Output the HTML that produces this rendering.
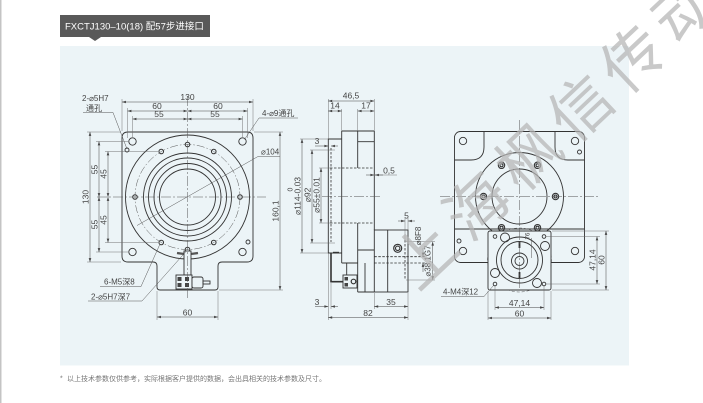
<!DOCTYPE html>
<html><head><meta charset="utf-8">
<style>
html,body{margin:0;padding:0;background:#fff;}
body{width:703px;height:403px;overflow:hidden;position:relative;}
svg{position:absolute;left:0;top:0;}
</style></head><body>
<svg width="703" height="403" viewBox="0 0 703 403" xmlns="http://www.w3.org/2000/svg" font-family="Liberation Sans, Noto Sans CJK SC, sans-serif">
<defs>
<marker id="a" viewBox="0 0 6 4" refX="6" refY="2" markerWidth="5" markerHeight="2.6" orient="auto-start-reverse" markerUnits="userSpaceOnUse"><path d="M0,0L6,2L0,4z" fill="#444"/></marker>
</defs>
<rect x="0" y="0" width="1.5" height="403" fill="#c4c4c4"/>
<rect x="60" y="46" width="569" height="319.5" fill="#ecf4f7"/>
<rect x="60" y="15" width="150" height="22" fill="#595959"/>
<path d="M89,37 L101,37 L95,41 Z" fill="#595959"/>
<text x="65" y="29.5" font-size="9.5" fill="#fff">FXCTJ130–10(18) 配57步进接口</text>

<text x="60" y="380.5" font-size="7" fill="#777">*</text>
<text x="67" y="381" font-size="7" fill="#777">以上技术参数仅供参考，实际根据客户提供的数据，会出具相关的技术参数及尺寸。</text>

<!-- ============ LEFT VIEW ============ -->
<g fill="none" stroke="#333" stroke-width="0.9">
<path d="M128,132 H247 Q253,132 253,138 V256 Q253,262 247,262 H222 Q218,262 218,266 V287 Q218,290 215,290 H160 Q157,290 157,287 V266 Q157,262 153,262 H128 Q122,262 122,256 V138 Q122,132 128,132 Z"/>
<circle cx="187.5" cy="197" r="62"/>
<circle cx="187.5" cy="197" r="44"/>
<circle cx="187.5" cy="197" r="39"/>
<circle cx="187.5" cy="197" r="33.5"/>
<circle cx="187.5" cy="197" r="28"/>
<circle cx="132.5" cy="141.5" r="3.7"/>
<circle cx="242.5" cy="141.5" r="3.7"/>
<circle cx="132.5" cy="252" r="3.7"/>
<circle cx="242.5" cy="252" r="3.7"/>
<circle cx="127" cy="150" r="2"/>
<circle cx="248" cy="242" r="2"/>
<g stroke-width="1">
<circle cx="240" cy="197" r="2.3"/>
<circle cx="213.75" cy="151.5" r="2.3"/>
<circle cx="187.5" cy="144.5" r="2.3"/>
<circle cx="161.25" cy="151.5" r="2.3"/>
<circle cx="135" cy="197" r="2.3"/>
<circle cx="161.25" cy="242.5" r="2.3"/>
<circle cx="187.5" cy="249.5" r="2.3"/>
<circle cx="213.75" cy="242.5" r="2.3"/>
</g>
<path d="M177,253 Q187.5,255 198,253" stroke-width="2.2" stroke="#555"/>
<rect x="184" y="251" width="7" height="24" fill="#ecf4f7"/>
<rect x="176" y="275" width="16" height="14" fill="#ecf4f7"/>
<rect x="192" y="277" width="11" height="11" rx="2" fill="#ecf4f7"/>
<rect x="203" y="281" width="7" height="3"/>
</g>
<g fill="#444">
<rect x="177.5" y="277" width="4" height="4"/><rect x="177.5" y="283" width="4" height="4"/>
<rect x="185" y="277" width="4" height="4"/><rect x="185" y="283" width="4" height="4"/>
</g>
<circle cx="187.5" cy="197" r="52.5" fill="none" stroke="#555" stroke-width="0.5" stroke-dasharray="8,2,1.5,2"/>
<g stroke="#555" stroke-width="0.5" stroke-dasharray="10,2,2,2">
<line x1="187.5" y1="96" x2="187.5" y2="300"/>
<line x1="97" y1="197" x2="266" y2="197"/>
</g>
<g stroke="#666" stroke-width="0.45">
<line x1="122" y1="99" x2="122" y2="131"/><line x1="253" y1="99" x2="253" y2="131"/>
<line x1="127.5" y1="108" x2="127.5" y2="138"/><line x1="247.5" y1="108" x2="247.5" y2="138"/>
<line x1="132.5" y1="116" x2="132.5" y2="137"/><line x1="242.5" y1="116" x2="242.5" y2="137"/>
<line x1="87" y1="132" x2="121" y2="132"/><line x1="96" y1="141.5" x2="128" y2="141.5"/>
<line x1="105" y1="151.5" x2="158" y2="151.5"/><line x1="105" y1="242.5" x2="158" y2="242.5"/>
<line x1="96" y1="252" x2="128" y2="252"/><line x1="87" y1="262" x2="121" y2="262"/>
<line x1="254" y1="132" x2="283" y2="132"/><line x1="219" y1="290" x2="283" y2="290"/>
<line x1="157" y1="291" x2="157" y2="320"/><line x1="218" y1="291" x2="218" y2="320"/>
</g>
<g stroke="#444" stroke-width="0.5" marker-start="url(#a)" marker-end="url(#a)">
<line x1="122" y1="102" x2="253" y2="102"/>
<line x1="127.5" y1="111" x2="187.5" y2="111"/><line x1="187.5" y1="111" x2="247.5" y2="111"/>
<line x1="132.5" y1="119" x2="187.5" y2="119"/><line x1="187.5" y1="119" x2="242.5" y2="119"/>
<line x1="90" y1="132" x2="90" y2="262"/>
<line x1="99" y1="141.5" x2="99" y2="197"/><line x1="99" y1="197" x2="99" y2="252"/>
<line x1="108" y1="151.5" x2="108" y2="197"/><line x1="108" y1="197" x2="108" y2="242.5"/>
<line x1="280" y1="132" x2="280" y2="290"/>
<line x1="157" y1="317" x2="218" y2="317"/>
</g>
<g fill="none" stroke="#555" stroke-width="0.5">
<polyline points="83,112.5 113,112.5 127,149"/>
<polyline points="298,118 259,118 244.5,139.5"/>
<polyline points="137,225.5 258,156.5 280,156.5"/>
<polyline points="100,286.5 141,286.5 160,244"/>
<polyline points="88,301 142,301 186,251.5"/>
</g>
<g font-size="8.5" fill="#444" text-anchor="middle">
<text x="187.5" y="100">130</text>
<text x="157" y="109">60</text><text x="218" y="109">60</text>
<text x="159" y="117">55</text><text x="215" y="117">55</text>
<text x="187.5" y="315.5">60</text>
<text transform="translate(88.5,197) rotate(-90)">130</text>
<text transform="translate(97.5,169.5) rotate(-90)">55</text>
<text transform="translate(106.5,174) rotate(-90)">45</text>
<text transform="translate(97.5,224.5) rotate(-90)">55</text>
<text transform="translate(106.5,220) rotate(-90)">45</text>
<text transform="translate(278.5,211) rotate(-90)">160,1</text>
</g>
<g font-size="8" fill="#444">
<text x="82" y="101">2-⌀5H7</text>
<text x="86" y="111">通孔</text>
<text x="262" y="116">4-⌀9通孔</text>
<text x="261" y="154.5">⌀104</text>
<text x="104" y="284.5">6-M5深8</text>
<text x="91" y="299.5">2-⌀5H7深7</text>
</g>

<!-- ============ MIDDLE VIEW ============ -->
<g fill="none" stroke="#333" stroke-width="0.9">
<path d="M341.7,139 H328.3 V253 H341.7"/>
<line x1="341.7" y1="131" x2="341.7" y2="263"/>
<line x1="341.7" y1="131" x2="374.3" y2="131"/>
<line x1="374.3" y1="131" x2="374.3" y2="230"/>
<line x1="357.7" y1="131" x2="357.7" y2="168"/>
<line x1="357.7" y1="223" x2="357.7" y2="292"/>
<line x1="357.7" y1="141.7" x2="374.3" y2="141.7"/>
<rect x="374.3" y="230" width="33.7" height="62"/>
<line x1="387.7" y1="230" x2="387.7" y2="292"/>
<line x1="357.7" y1="292" x2="374.3" y2="292"/>
<line x1="341.7" y1="263" x2="357.7" y2="263"/>
<line x1="357.7" y1="250" x2="374.3" y2="250"/>
<line x1="365" y1="263" x2="365" y2="292"/>
<line x1="346.7" y1="263" x2="346.7" y2="275"/>
<rect x="343" y="275" width="14" height="13" fill="#ecf4f7"/>
<circle cx="397.7" cy="248.3" r="4" stroke-width="1.2"/>
<circle cx="397.7" cy="248.3" r="2.2" stroke-width="1.1"/>
</g>
<path d="M331,253 V281.7 H343" fill="none" stroke="#333" stroke-width="1.6"/>
<line x1="333" y1="252.6" x2="339" y2="252.6" stroke="#333" stroke-width="1.6"/>
<circle cx="353.5" cy="281.5" r="2.3" fill="none" stroke="#333" stroke-width="1.2"/>
<rect x="344.5" y="277" width="3.5" height="3.5" fill="#444"/><rect x="344.5" y="283" width="3.5" height="3.5" fill="#444"/>
<g fill="none" stroke="#333" stroke-width="0.8" stroke-dasharray="2.5,1.5">
<line x1="330" y1="168" x2="374.3" y2="168"/>
<line x1="330" y1="223" x2="374.3" y2="223"/>
<line x1="331" y1="148" x2="331" y2="242"/>
<line x1="374.3" y1="256.7" x2="426" y2="256.7"/>
<line x1="374.3" y1="263" x2="426" y2="263"/>
<line x1="405" y1="240" x2="405" y2="280"/>
</g>
<line x1="322" y1="196.7" x2="381" y2="196.7" stroke="#555" stroke-width="0.5" stroke-dasharray="10,2,2,2"/>
<g stroke="#666" stroke-width="0.45">
<line x1="328.3" y1="99" x2="328.3" y2="139"/><line x1="328.3" y1="253" x2="328.3" y2="320"/>
<line x1="341.7" y1="109" x2="341.7" y2="131"/><line x1="357.7" y1="109" x2="357.7" y2="131"/>
<line x1="374.3" y1="99" x2="374.3" y2="131"/>
<line x1="300" y1="139" x2="328" y2="139"/><line x1="310" y1="150" x2="335" y2="150"/>
<line x1="319" y1="168" x2="330" y2="168"/><line x1="319" y1="223" x2="330" y2="223"/>
<line x1="310" y1="243" x2="335" y2="243"/><line x1="300" y1="253" x2="328" y2="253"/>
<line x1="331" y1="283" x2="331" y2="309"/>
<line x1="374.3" y1="293" x2="374.3" y2="309"/><line x1="408" y1="293" x2="408" y2="320"/>
<line x1="405" y1="218" x2="405" y2="240"/><line x1="408" y1="218" x2="408" y2="230"/>
<line x1="406" y1="241.7" x2="435" y2="241.7"/><line x1="406" y1="280" x2="435" y2="280"/>
<line x1="375" y1="175" x2="397" y2="175"/>
</g>
<g stroke="#444" stroke-width="0.5" marker-start="url(#a)" marker-end="url(#a)">
<line x1="328.3" y1="101" x2="374.3" y2="101"/>
<line x1="328.3" y1="111" x2="341.7" y2="111"/>
<line x1="357.7" y1="111" x2="374.3" y2="111"/>
<line x1="302" y1="139" x2="302" y2="253"/>
<line x1="312" y1="150" x2="312" y2="243"/>
<line x1="321" y1="168" x2="321" y2="223"/>
<line x1="432.7" y1="241.7" x2="432.7" y2="280"/>
<line x1="374.3" y1="306.5" x2="408" y2="306.5"/>
<line x1="328.3" y1="317.5" x2="408" y2="317.5"/>
</g>
<g stroke="#444" stroke-width="0.5" marker-end="url(#a)">
<line x1="315" y1="146" x2="328.3" y2="146"/><line x1="338" y1="146" x2="331" y2="146"/>
<line x1="366" y1="175" x2="374.3" y2="175"/><line x1="383" y1="175" x2="375" y2="175"/>
<line x1="398" y1="221" x2="405" y2="221"/><line x1="415" y1="221" x2="408" y2="221"/>
<line x1="423" y1="248" x2="423" y2="256.7"/><line x1="423" y1="272" x2="423" y2="263"/>
<line x1="315" y1="306.5" x2="328.3" y2="306.5"/><line x1="338" y1="306.5" x2="331" y2="306.5"/>
</g>
<g font-size="8.5" fill="#444" text-anchor="middle">
<text x="351" y="98.5">46,5</text>
<text x="335" y="108.5">14</text>
<text x="366" y="108.5">17</text>
<text x="317" y="144">3</text>
<text x="389" y="173.5">0,5</text>
<text x="406.5" y="218.5">5</text>
<text x="317" y="305">3</text>
<text x="391" y="305">35</text>
<text x="368" y="316">82</text>
<text transform="translate(300.5,196) rotate(-90)">⌀114-0.03</text>
<text transform="translate(310.5,195) rotate(-90)">⌀92</text>
<text transform="translate(319.5,195) rotate(-90)">⌀55±0.01</text>
<text transform="translate(421,236) rotate(-90)" font-size="8">⌀8F8</text>
<text transform="translate(430.5,261) rotate(-90)" font-size="8">⌀38,1G7</text>
</g>
<text transform="translate(292.5,189.5) rotate(-90)" font-size="7" fill="#444" text-anchor="middle">0</text>

<!-- ============ RIGHT VIEW ============ -->
<g fill="none" stroke="#333" stroke-width="0.9">
<rect x="454.5" y="131.5" width="130" height="131" rx="6"/>
<path d="M484,131.5 V147 Q484,160 471,160 H454.5"/>
<path d="M555,131.5 V147 Q555,160 568,160 H584.5"/>
<line x1="454.5" y1="229" x2="584.5" y2="229"/>
<circle cx="519.5" cy="196.5" r="44"/>
<circle cx="519.5" cy="196.5" r="27.5"/>
<circle cx="463" cy="141" r="3.7"/>
<circle cx="575" cy="141" r="3.7"/>
<circle cx="579.5" cy="152" r="2"/>
<circle cx="463" cy="251" r="3.7"/>
<circle cx="459" cy="241" r="2"/>
<circle cx="575" cy="251" r="3.7"/>
<g stroke-width="1.1">
<circle cx="555.5" cy="196.5" r="3.2"/><circle cx="555.5" cy="196.5" r="1.5"/>
<circle cx="537.5" cy="165.3" r="3.2"/><circle cx="537.5" cy="165.3" r="1.5"/>
<circle cx="501.5" cy="165.3" r="3.2"/><circle cx="501.5" cy="165.3" r="1.5"/>
<circle cx="483.5" cy="196.5" r="3.2"/><circle cx="483.5" cy="196.5" r="1.5"/>
<circle cx="501.5" cy="227.7" r="3.2"/><circle cx="501.5" cy="227.7" r="1.5"/>
<circle cx="537.5" cy="227.7" r="3.2"/><circle cx="537.5" cy="227.7" r="1.5"/>
</g>
</g>
<g stroke="#555" stroke-width="0.5" stroke-dasharray="10,2,2,2">
<line x1="440" y1="196.5" x2="600" y2="196.5"/>
<line x1="519.5" y1="120" x2="519.5" y2="230"/>
</g>
<circle cx="519.5" cy="260" r="32" fill="none" stroke="#555" stroke-width="0.5" stroke-dasharray="3,2"/>
<g fill="#ecf4f7" stroke="#333" stroke-width="0.9">
<rect x="488" y="231" width="63" height="59" rx="2"/>
</g>
<g fill="none" stroke="#333" stroke-width="0.9">
<circle cx="519.5" cy="260" r="23"/>
<circle cx="519.5" cy="260" r="18.5"/>
<circle cx="519.5" cy="261" r="8"/>
<circle cx="519.5" cy="261" r="4.5"/>
<circle cx="495" cy="236.5" r="1.8"/><circle cx="544" cy="236.5" r="1.8"/>
<circle cx="495" cy="284" r="1.8"/><circle cx="544" cy="284" r="1.8"/>
<circle cx="505" cy="237.5" r="4.5"/><circle cx="545" cy="246" r="4.5"/>
<circle cx="495" cy="273" r="4.5"/><circle cx="537" cy="283" r="4.5"/>
</g>
<g stroke="#333" stroke-width="1.8">
<line x1="519.5" y1="242" x2="519.5" y2="248"/>
<line x1="519.5" y1="272" x2="519.5" y2="278"/>
</g>
<line x1="519.5" y1="230" x2="519.5" y2="290" stroke="#555" stroke-width="0.5" stroke-dasharray="10,2,2,2"/>
<line x1="531.5" y1="238" x2="531.5" y2="258" stroke="#555" stroke-width="0.5"/>
<text transform="translate(529.5,236) rotate(-90)" font-size="6" fill="#444" text-anchor="middle">76</text>
<g stroke="#666" stroke-width="0.45">
<line x1="552" y1="231" x2="609" y2="231"/><line x1="552" y1="290" x2="609" y2="290"/>
<line x1="546" y1="236.5" x2="600" y2="236.5"/><line x1="546" y1="284" x2="600" y2="284"/>
<line x1="488" y1="291" x2="488" y2="320"/><line x1="551" y1="291" x2="551" y2="320"/>
<line x1="495" y1="286" x2="495" y2="310"/><line x1="544" y1="286" x2="544" y2="310"/>
</g>
<g stroke="#444" stroke-width="0.5" marker-start="url(#a)" marker-end="url(#a)">
<line x1="606" y1="231" x2="606" y2="290"/>
<line x1="597" y1="236.5" x2="597" y2="284"/>
<line x1="495" y1="307.5" x2="544" y2="307.5"/>
<line x1="488" y1="318" x2="551" y2="318"/>
</g>
<polyline points="441,296.5 484,296.5 493.5,285.5" fill="none" stroke="#555" stroke-width="0.5"/>
<g font-size="8.5" fill="#444" text-anchor="middle">
<text x="519.5" y="306">47,14</text>
<text x="519.5" y="316.5">60</text>
<text transform="translate(595.5,260) rotate(-90)">47,14</text>
<text transform="translate(604.5,260) rotate(-90)">60</text>
</g>
<text x="443" y="294.5" font-size="8" fill="#444">4-M4深12</text>

<!-- ============ WATERMARK ============ -->
<g transform="translate(555,132.5) rotate(-43.3)" font-family="Noto Sans CJK SC, WenQuanYi Zen Hei, sans-serif" font-size="62" fill="#b4b4b4" fill-opacity="0.72" text-anchor="middle">
<text x="-178.75" y="22">上</text>
<text x="-107.25" y="22">海</text>
<text x="-35.75" y="22">枫</text>
<text x="35.75" y="22">信</text>
<text x="107.25" y="22">传</text>
<text x="178.75" y="22">动</text>
</g>
</svg>
</body></html>
